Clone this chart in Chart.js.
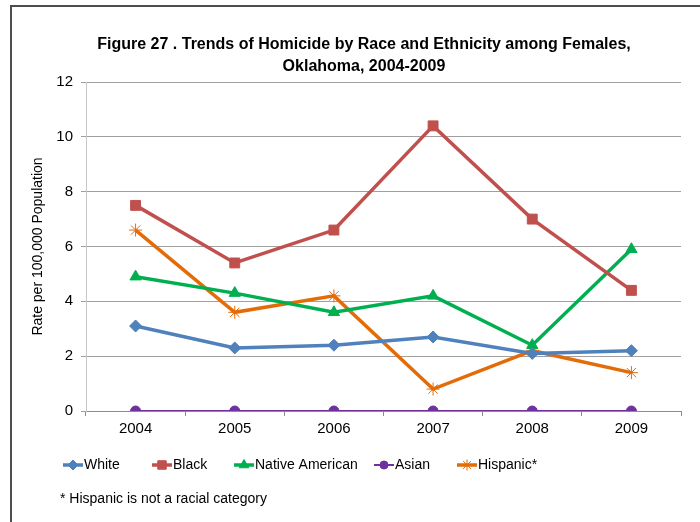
<!DOCTYPE html>
<html>
<head>
<meta charset="utf-8">
<script src="https://cdn.jsdelivr.net/npm/chart.js@4.4.1/dist/chart.umd.min.js"></script>
<style>
  html, body { margin: 0; padding: 0; background: #fff; }
  #wrap { width: 700px; height: 522px; position: relative; }
</style>
</head>
<body>
<div id="wrap"><canvas id="chartId" width="700" height="522"></canvas></div>
<script>
// data
var years = ['2004', '2005', '2006', '2007', '2008', '2009'];
var white = [3.1, 2.3, 2.4, 2.7, 2.1, 2.2];
var black = [7.5, 5.4, 6.6, 10.4, 7.0, 4.4];
var nativeAmerican = [4.9, 4.3, 3.6, 4.2, 2.4, 5.9];
var asian = [0, 0, 0, 0, 0, 0];
var hispanic = [6.6, 3.6, 4.2, 0.8, 2.2, 1.4];
var yTicks = [0, 2, 4, 6, 8, 10, 12];
var titleLines = ['Figure 27 . Trends of Homicide by Race and Ethnicity among Females,', 'Oklahoma, 2004-2009'];

var FONT = "'Liberation Sans Narrow', 'Arial Narrow', 'Liberation Sans', sans-serif";

// legend columns (left x of each item), like the Excel legend
var legendX = [63, 152, 234, 374, 457];

var frame = {
    id: 'frame',
    beforeDraw: function (chart) {
        var ctx = chart.ctx;
        ctx.save();
        ctx.fillStyle = '#fff';
        ctx.fillRect(0, 0, chart.width, chart.height);
        ctx.strokeStyle = '#4d4d4d';
        ctx.lineWidth = 2;
        ctx.beginPath();
        ctx.moveTo(11, chart.height);
        ctx.lineTo(11, 6);
        ctx.lineTo(chart.width, 6);
        ctx.stroke();
        // title, centred as in the original
        ctx.fillStyle = '#000';
        ctx.font = 'bold 16px ' + FONT;
        ctx.textAlign = 'center';
        ctx.textBaseline = 'middle';
        ctx.fillText(titleLines[0], 364, 45);
        ctx.fillText(titleLines[1], 364, 67);
        ctx.restore();
    }
};

var excelLegend = {
    id: 'excelLegend',
    afterDraw: function (chart) {
        var ctx = chart.ctx;
        var y = 465;
        ctx.save();
        chart.data.datasets.forEach(function (ds, i) {
            var x = legendX[i];
            ctx.strokeStyle = ds.borderColor;
            ctx.lineWidth = ds.borderWidth;
            ctx.beginPath();
            ctx.moveTo(x, y);
            ctx.lineTo(x + 20, y);
            ctx.stroke();
            ctx.fillStyle = ds.pointBackgroundColor;
            ctx.strokeStyle = ds.pointBorderColor;
            ctx.lineWidth = 1;
            Chart.helpers.drawPoint(ctx, {
                pointStyle: ds.pointStyle,
                radius: ds.pointRadius - 1,
                borderWidth: 1,
                rotation: 0
            }, x + 10, y);
            ctx.fillStyle = '#000';
            ctx.font = '14px ' + FONT;
            ctx.textAlign = 'left';
            ctx.textBaseline = 'middle';
            ctx.fillText(ds.label, x + 21, y);
        });
        ctx.font = '14px ' + FONT;
        ctx.fillStyle = '#000';
        ctx.textBaseline = 'middle';
        ctx.fillText('* Hispanic is not a racial category', 60, 499);
        ctx.restore();
    }
};

function series(label, data, color, style, radius, width) {
    return {
        label: label,
        data: data,
        borderColor: color,
        backgroundColor: color,
        pointBackgroundColor: color,
        pointBorderColor: color,
        pointStyle: style,
        pointRadius: radius,
        pointHoverRadius: radius,
        pointBorderWidth: 1,
        borderWidth: width,
        tension: 0
    };
}

window.onload = function () {
    var chrt = document.getElementById('chartId').getContext('2d');
    var chartId = new Chart(chrt, {
        type: 'line',
        data: {
            labels: years,
            datasets: [
                series('White', white, '#4f81bd', 'rectRot', 6, 3.5),
                series('Black', black, '#c0504d', 'rect', 7, 3.5),
                series('Native American', nativeAmerican, '#00b050', 'triangle', 6.5, 3.5),
                series('Asian', asian, '#7030a0', 'circle', 5, 2),
                series('Hispanic*', hispanic, '#e36c09', 'star', 6.5, 3.5)
            ]
        },
        plugins: [frame, excelLegend],
        options: {
            responsive: false,
            animation: false,
            layout: {
                padding: { left: 30, right: 19, top: 82, bottom: 81 }
            },
            plugins: {
                legend: { display: false },
                tooltip: { enabled: false },
                title: { display: false }
            },
            scales: {
                x: {
                    offset: true,
                    afterFit: function (s) { s.height = 30; },
                    grid: {
                        offset: true,
                        drawOnChartArea: false,
                        drawTicks: true,
                        tickLength: 5,
                        color: '#8c8c8c'
                    },
                    border: { display: true, color: '#8c8c8c', width: 1 },
                    ticks: {
                        color: '#000',
                        padding: 4,
                        font: { family: FONT, size: 15 }
                    }
                },
                y: {
                    min: 0,
                    max: 12,
                    afterFit: function (s) { s.width = 56; },
                    afterBuildTicks: function (s) {
                        s.ticks = yTicks.map(function (v) { return { value: v }; });
                    },
                    grid: {
                        color: '#a0a0a0',
                        lineWidth: 1,
                        drawTicks: true,
                        tickLength: 5,
                        tickColor: '#a0a0a0'
                    },
                    border: { display: true, color: '#c8c8c8', width: 1 },
                    ticks: {
                        color: '#000',
                        padding: 8,
                        font: { family: FONT, size: 15 }
                    },
                    title: {
                        display: true,
                        text: 'Rate per 100,000 Population',
                        color: '#000',
                        font: { family: FONT, size: 14 },
                        padding: { top: 0, bottom: 0 }
                    }
                }
            }
        }
    });
};
</script>
</body>
</html>
